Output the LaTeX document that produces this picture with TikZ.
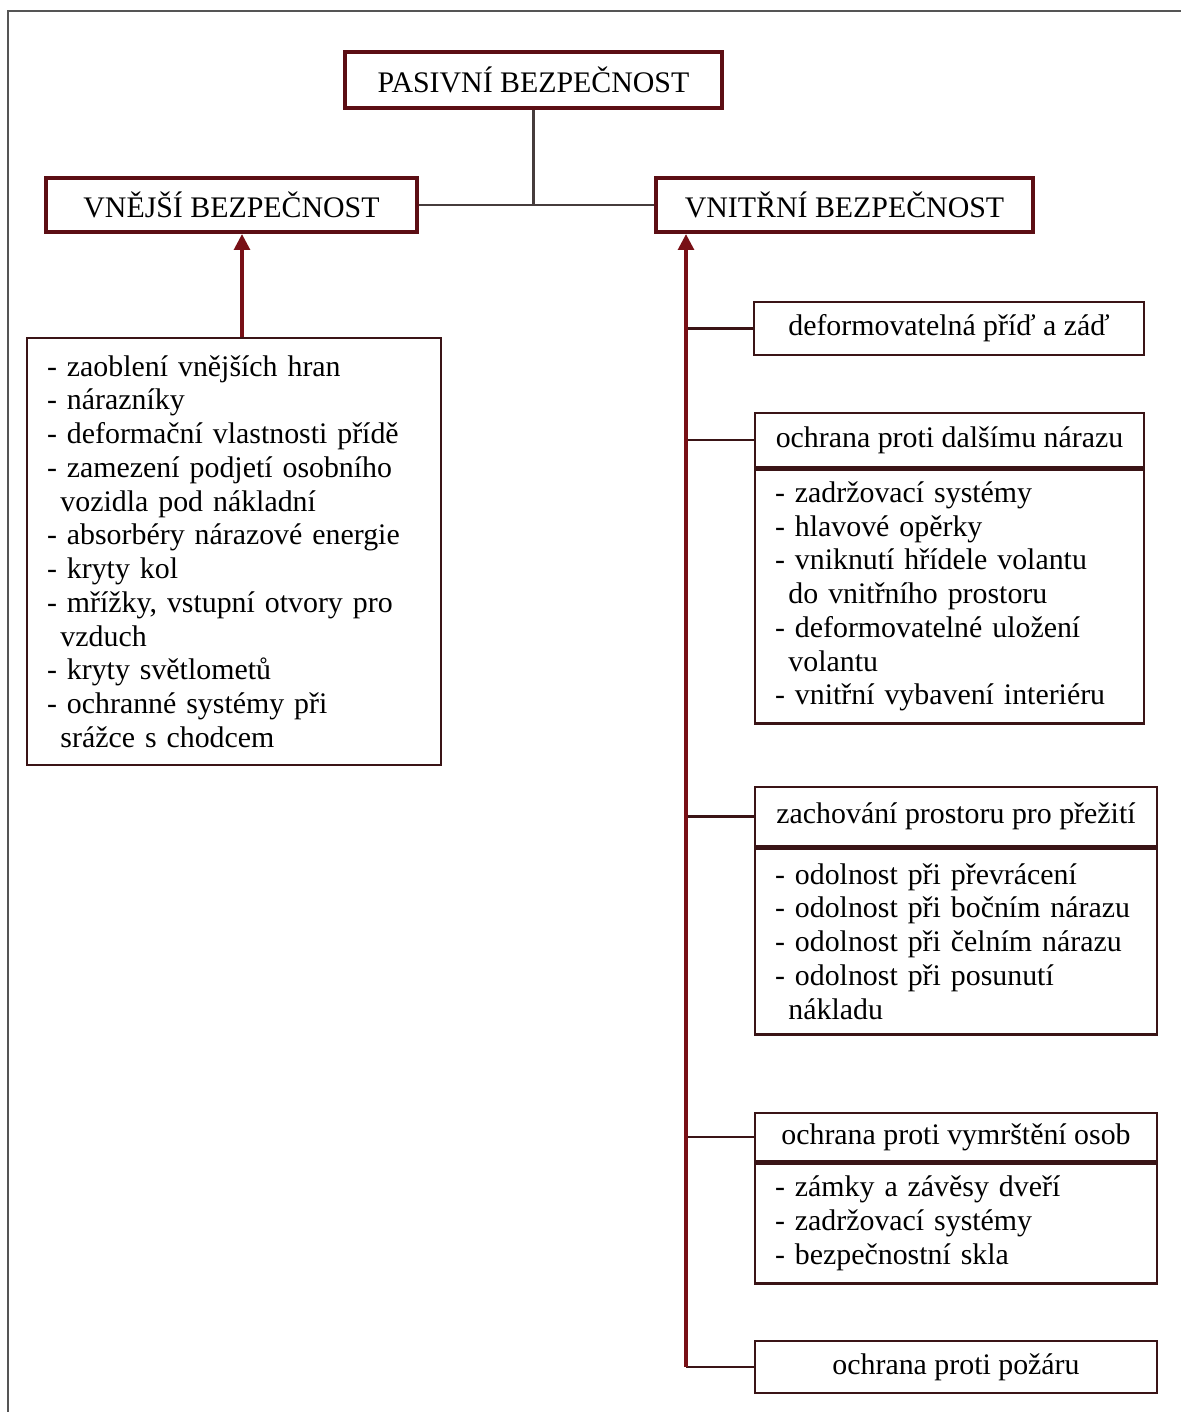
\documentclass[tikz,border=0pt]{standalone}
\usepackage{fontspec}
\setmainfont{Liberation Serif}
\usetikzlibrary{arrows.meta}
\definecolor{maroon}{RGB}{92,14,20}
\definecolor{boxline}{RGB}{58,20,22}
\definecolor{spinecol}{RGB}{120,16,22}
\definecolor{framecol}{RGB}{85,85,85}
\definecolor{linkcol}{RGB}{70,60,60}
\tikzset{
  hbox/.style={draw=maroon, line width=2.4pt, fill=white, inner sep=0pt,
    font=\fontsize{17}{19.2}\selectfont},
  lbox/.style={draw=boxline, line width=1.4pt, fill=white, inner sep=0pt,
    font=\fontsize{17}{19.2}\selectfont},
  listbox/.style={lbox, align=left, inner xsep=0.4cm},
  redarrow/.style={draw=spinecol, line width=1.8pt, -{Triangle[width=9pt,length=9pt]}},
  branch/.style={draw=boxline, line width=1.4pt},
  link/.style={draw=linkcol, line width=1.2pt},
}
\begin{document}
\begin{tikzpicture}[x=0.02cm,y=-0.02cm]
\useasboundingbox (0,0) rectangle (1181,1412);
\draw[framecol, line width=1.2pt] (8,1412) -- (8,11) -- (1181,11);

% top level
\node[hbox, minimum width=7.54cm, minimum height=1.12cm] (pas) at (533.5,80) {PASIVNÍ BEZPEČNOST};
\node[hbox, minimum width=7.42cm, minimum height=1.08cm] (vne) at (231.5,205) {VNĚJŠÍ BEZPEČNOST};
\node[hbox, minimum width=7.54cm, minimum height=1.08cm] (vni) at (844.5,205) {VNITŘNÍ BEZPEČNOST};

\draw[link] (pas.south) -- (pas.south |- vne.east);
\draw[link] (vne.east) -- (vni.west);

% left list
\node[listbox, minimum width=8.28cm, minimum height=8.54cm, text width=7.48cm] (vlist) at (234,551.5) {%
- zaoblení vnějších hran\\
- nárazníky\\
- deformační vlastnosti přídě\\
- zamezení podjetí osobního\\
\hspace*{0.45em}vozidla pod nákladní\\
- absorbéry nárazové energie\\
- kryty kol\\
- mřížky, vstupní otvory pro\\
\hspace*{0.45em}vzduch\\
- kryty světlometů\\
- ochranné systémy při\\
\hspace*{0.45em}srážce s chodcem};
\draw[redarrow] (vlist.north -| 242,0) -- (vne.south -| 242,0);

% right side
\node[lbox, minimum width=7.8cm, minimum height=1.06cm] (r1) at (949,328.5) {deformovatelná příď a záď};

\node[lbox, minimum width=7.78cm, minimum height=1.08cm] (r2h) at (949.5,440) {ochrana proti dalšímu nárazu};
\node[listbox, anchor=north, minimum width=7.78cm, minimum height=5.08cm, text width=6.98cm] (r2b) at (r2h.south) {%
- zadržovací systémy\\
- hlavové opěrky\\
- vniknutí hřídele volantu\\
\hspace*{0.45em}do vnitřního prostoru\\
- deformovatelné uložení\\
\hspace*{0.45em}volantu\\
- vnitřní vybavení interiéru};

\node[lbox, minimum width=8.04cm, minimum height=1.18cm] (r3h) at (956,816.5) {zachování prostoru pro přežití};
\node[listbox, anchor=north, minimum width=8.04cm, minimum height=3.72cm, text width=7.24cm] (r3b) at (r3h.south) {%
- odolnost při převrácení\\
- odolnost při bočním nárazu\\
- odolnost při čelním nárazu\\
- odolnost při posunutí\\
\hspace*{0.45em}nákladu};

\node[lbox, minimum width=8.04cm, minimum height=0.96cm] (r4h) at (956,1137) {ochrana proti vymrštění osob};
\node[listbox, anchor=north, minimum width=8.04cm, minimum height=2.4cm, text width=7.24cm] (r4b) at (r4h.south) {%
- zámky a závěsy dveří\\
- zadržovací systémy\\
- bezpečnostní skla};

\node[lbox, minimum width=8.04cm, minimum height=1.04cm] (r5) at (956,1367) {ochrana proti požáru};

\coordinate (spine) at (686,1367);
\draw[branch] (r1.west) -- (r1.west -| spine);
\draw[branch] (r2h.west) -- (r2h.west -| spine);
\draw[branch] (r3h.west) -- (r3h.west -| spine);
\draw[branch] (r4h.west) -- (r4h.west -| spine);
\draw[branch] (r5.west) -- (spine);
\draw[redarrow] (spine) -- (spine |- vni.south);
\end{tikzpicture}
\end{document}
